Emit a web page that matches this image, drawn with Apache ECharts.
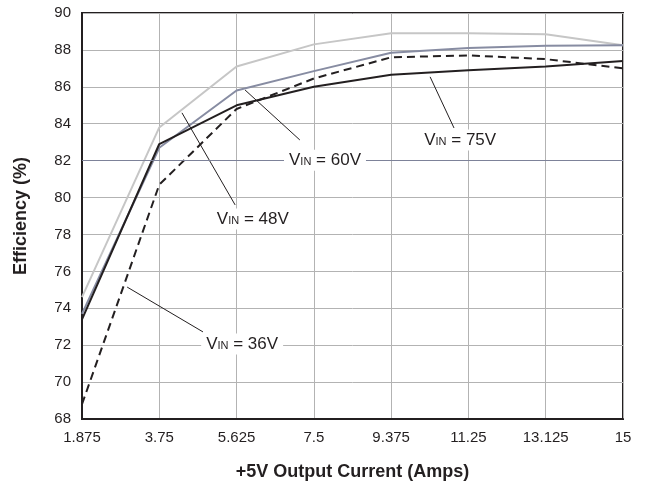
<!DOCTYPE html>
<html>
<head>
<meta charset="utf-8">
<script src="https://cdn.jsdelivr.net/npm/echarts@6/dist/echarts.min.js"></script>
<style>
  html, body { margin: 0; padding: 0; background: #fff; }
  #chart { width: 646px; height: 489px; }
</style>
</head>
<body>
<div id="chart"></div>
<script>
const currents = [1.875, 3.75, 5.625, 7.5, 9.375, 11.25, 13.125, 15];
const vin36 = [68.8, 80.7, 84.8, 86.45, 87.6, 87.7, 87.5, 87.0];
const vin48 = [74.6, 83.8, 87.1, 88.3, 88.9, 88.9, 88.85, 88.25];
const vin60 = [73.7, 82.7, 85.8, 86.85, 87.85, 88.1, 88.23, 88.25];
const vin75 = [73.4, 82.9, 85.0, 86.0, 86.65, 86.9, 87.1, 87.4];

// callout label anchors and leader lines [x1, y1, x2, y2], in data units
const callouts = {
  "36V": { at: [5.76, 72.07], leader: [2.97, 75.15, 4.81, 72.72] },
  "48V": { at: [6.02, 78.84], leader: [4.30, 84.59, 5.59, 79.6] },
  "60V": { at: [7.77, 82.02], leader: [5.83, 85.83, 7.16, 83.12] },
  "75V": { at: [11.05, 83.12], leader: [10.32, 86.54, 10.90, 83.77] }
};

const FONT = "'Liberation Sans', Arial, sans-serif";
const INK = "#231f20";

function pairs(ys) {
  return currents.map((x, i) => [x, ys[i]]);
}

function callout(name) {
  const c = callouts[name];
  return {
    markLine: {
      silent: true,
      symbol: "none",
      animation: false,
      lineStyle: { color: INK, width: 1, type: "solid" },
      label: { show: false },
      data: [[{ coord: [c.leader[0], c.leader[1]] }, { coord: [c.leader[2], c.leader[3]] }]]
    },
    markPoint: {
      silent: true,
      symbol: "rect",
      symbolSize: 0,
      animation: false,
      z: 20,
      label: {
        show: true,
        position: "inside",
        backgroundColor: "#fff",
        padding: [2, 5],
        formatter: "{v|V}{s|IN}{t| = " + name + "}",
        rich: {
          v: { fontSize: 17, color: INK, fontFamily: FONT },
          s: { fontSize: 11, color: INK, fontFamily: FONT, verticalAlign: "bottom", padding: [0, 0, 1, 0] },
          t: { fontSize: 17, color: INK, fontFamily: FONT }
        }
      },
      data: [{ coord: c.at }]
    }
  };
}

function line(name, ys, color, dashed) {
  return Object.assign({
    name: name,
    type: "line",
    data: pairs(ys),
    symbol: "none",
    smooth: false,
    animation: false,
    emphasis: { disabled: true },
    lineStyle: { color: color, width: 2, type: dashed ? [8, 5] : "solid" }
  }, callout(name));
}

const s60 = line("60V", vin60, "#878ca2", false);
s60.markLine.data.push([{ coord: [1.875, 82] }, { coord: [15, 82] }]);
s60.markLine.data[1][0].lineStyle = { color: "#7d8299", width: 1 };

const option = {
  backgroundColor: "#fff",
  animation: false,
  grid: {
    left: 82, right: 23, top: 13, bottom: 70,
    show: true, borderColor: INK, borderWidth: 2
  },
  xAxis: {
    type: "value",
    min: 1.875, max: 15, interval: 1.875,
    name: "+5V Output Current (Amps)",
    nameLocation: "middle",
    nameGap: 44,
    nameTextStyle: { fontSize: 18, fontWeight: "bold", color: INK, fontFamily: FONT },
    axisLine: { show: true, lineStyle: { color: INK, width: 2 } },
    axisTick: { show: false },
    axisLabel: { fontSize: 15, color: INK, fontFamily: FONT, margin: 11 },
    splitLine: { show: true, lineStyle: { color: "#b3b3b3", width: 1 } }
  },
  yAxis: {
    type: "value",
    min: 68, max: 90, interval: 2,
    name: "Efficiency (%)",
    nameLocation: "middle",
    nameGap: 52,
    nameTextStyle: { fontSize: 18, fontWeight: "bold", color: INK, fontFamily: FONT },
    axisLine: { show: true, lineStyle: { color: INK, width: 2 } },
    axisTick: { show: false },
    axisLabel: { fontSize: 15, color: INK, fontFamily: FONT, margin: 11 },
    splitLine: { show: true, lineStyle: { color: "#b3b3b3", width: 1 } }
  },
  series: [
    line("48V", vin48, "#c6c6c6", false),
    s60,
    line("36V", vin36, INK, true),
    line("75V", vin75, INK, false)
  ]
};

const chart = echarts.init(document.getElementById("chart"));
chart.setOption(option);
window.addEventListener("resize", () => chart.resize());
</script>
</body>
</html>
